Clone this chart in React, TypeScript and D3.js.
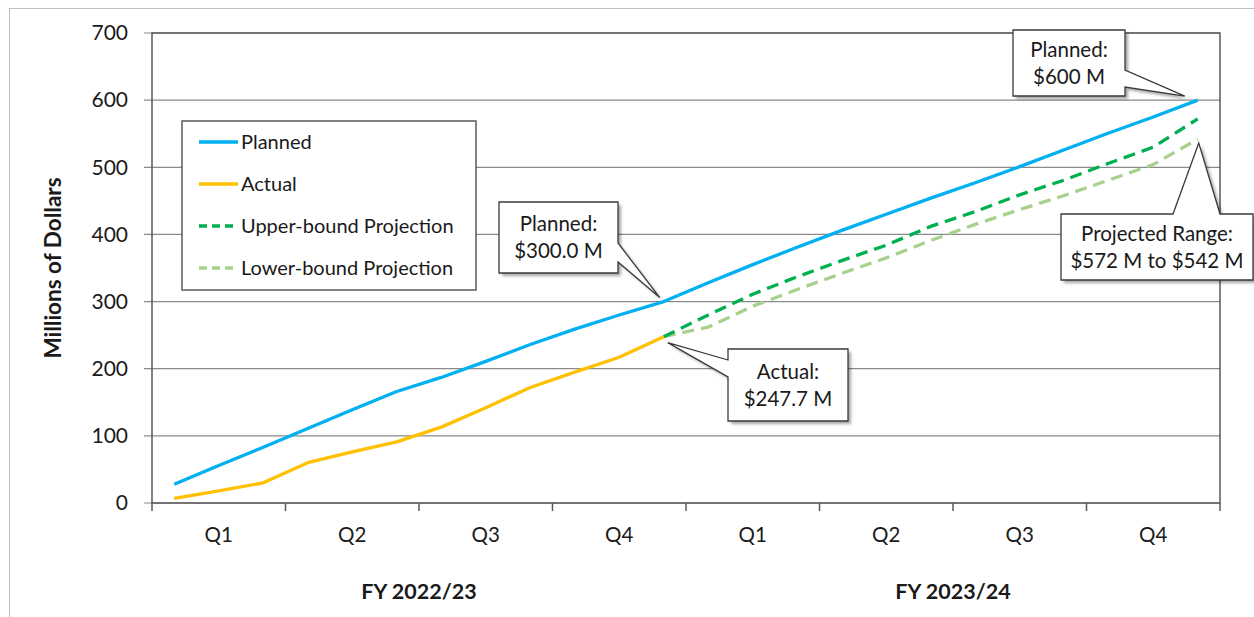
import * as d3 from 'd3';

// monthly cumulative values, millions of dollars (FY 2022/23 months 1-12, FY 2023/24 months 13-24)
const planned = [28, 56, 83, 111, 139, 166, 187, 211, 236, 259, 280, 300, 328, 355, 381, 406, 430, 454, 477, 501, 526, 551, 575, 600];
const actual = [7, 18, 30, 60, 76, 91, 113, 142, 172, 195, 217, 247.7];
// projections start at the last actual month (month 12)
const upperBound = [247.7, 280, 311, 337, 361, 384, 412, 434, 459, 481, 506, 530, 572];
const lowerBound = [247.7, 262, 293, 318, 342, 365, 391, 415, 437, 458, 481, 504, 542];
const quarterLabels = ['Q1', 'Q2', 'Q3', 'Q4', 'Q1', 'Q2', 'Q3', 'Q4'];
const fiscalYears = ['FY 2022/23', 'FY 2023/24'];
const yTicks = [0, 100, 200, 300, 400, 500, 600, 700];

const FONT = 'Lato, "Open Sans", sans-serif';
const colors = { planned: '#00B0F0', actual: '#FFC000', upper: '#00B050', lower: '#A9D18E' };

const margin = { left: 152, top: 33, right: 1220, bottom: 503 };

const x = d3.scaleLinear().domain([0, 24]).range([margin.left, margin.right]);
const y = d3.scaleLinear().domain([0, 700]).range([margin.bottom, margin.top]);
const mx = (m: number) => x(m - 0.5); // month m (1-based) at the centre of its slot

const line = d3.line<[number, number]>().x(d => mx(d[0])).y(d => y(d[1]));
const toPts = (vals: number[], start: number) => vals.map((v, i) => [start + i, v] as [number, number]);

type Callout = {
    lines: string[];
    month: number;
    value: number;
    box: [number, number, number, number];
    edge: 'left' | 'right' | 'top';
    base: [number, number];
    tipOffset: [number, number];
};

const callouts: Callout[] = [
    { lines: ['Planned:', '$300.0 M'], month: 12, value: 300, box: [499, 202, 119, 71], edge: 'right', base: [243, 262], tipOffset: [-4, -4] },
    { lines: ['Actual:', '$247.7 M'], month: 12, value: 247.7, box: [728, 349, 120, 72], edge: 'left', base: [360, 377], tipOffset: [4, 6] },
    { lines: ['Planned:', '$600 M'], month: 24, value: 600, box: [1013, 30, 112, 66], edge: 'right', base: [70, 87], tipOffset: [-13, -4] },
    { lines: ['Projected Range:', '$572 M to $542 M'], month: 24, value: 542, box: [1061, 214, 192, 66], edge: 'top', base: [1173, 1220], tipOffset: [1, 4] },
];

function calloutPath(c: Callout) {
    const [bx, by, bw, bh] = c.box;
    const tx = mx(c.month) + c.tipOffset[0];
    const ty = y(c.value) + c.tipOffset[1];
    const [b1, b2] = c.base;
    if (c.edge === 'right') {
        return `M${bx},${by}L${bx + bw},${by}L${bx + bw},${b1}L${tx},${ty}L${bx + bw},${b2}L${bx + bw},${by + bh}L${bx},${by + bh}Z`;
    }
    if (c.edge === 'left') {
        return `M${bx},${by}L${bx + bw},${by}L${bx + bw},${by + bh}L${bx},${by + bh}L${bx},${b2}L${tx},${ty}L${bx},${b1}Z`;
    }
    return `M${bx},${by}L${b1},${by}L${tx},${ty}L${b2},${by}L${bx + bw},${by}L${bx + bw},${by + bh}L${bx},${by + bh}Z`;
}

const legendItems = [
    { label: 'Planned', color: colors.planned, dash: null },
    { label: 'Actual', color: colors.actual, dash: null },
    { label: 'Upper-bound Projection', color: colors.upper, dash: '8,5' },
    { label: 'Lower-bound Projection', color: colors.lower, dash: '8,5' },
];

export default function App() {
    const quarterTicks = d3.range(0, 25, 3);
    return (
        <svg width={1254} height={617} style={{ position: 'absolute', left: 0, top: 0, background: '#fff' }} fontFamily={FONT}>
            <defs>
                <filter id="shadow" x="-20%" y="-20%" width="140%" height="140%">
                    <feGaussianBlur stdDeviation="1.5" />
                </filter>
            </defs>
            {/* outer frame */}
            <rect x={9.5} y={8.5} width={1300} height={700} fill="none" stroke="#bfbfbf" strokeWidth={1} />

            {/* gridlines */}
            {yTicks.map(t => (
                <g key={t}>
                    <line x1={margin.left - 8} x2={margin.right} y1={y(t)} y2={y(t)} stroke="#8a8a8a" strokeWidth={1.2} />
                    <text x={128} y={y(t)} dy="0.35em" textAnchor="end" fontSize={21} fill="#1a1a1a">{t}</text>
                </g>
            ))}
            {/* plot border */}
            <rect x={margin.left} y={margin.top} width={margin.right - margin.left} height={margin.bottom - margin.top} fill="none" stroke="#5a5a5a" strokeWidth={1.5} />

            {/* x ticks and labels */}
            {quarterTicks.map(m => (
                <line key={m} x1={x(m)} x2={x(m)} y1={margin.bottom} y2={margin.bottom + 8} stroke="#5a5a5a" strokeWidth={1.5} />
            ))}
            {quarterLabels.map((q, i) => (
                <text key={i} x={x(i * 3 + 1.5)} y={535} dy="0.35em" textAnchor="middle" fontSize={20.5} fill="#1a1a1a">{q}</text>
            ))}
            {fiscalYears.map((fy, i) => (
                <text key={fy} x={x(i * 12 + 6)} y={591} dy="0.35em" textAnchor="middle" fontSize={21.5} fontWeight="bold" fill="#1a1a1a">{fy}</text>
            ))}
            <text transform={`translate(53,${(margin.top + margin.bottom) / 2}) rotate(-90)`} dy="0.35em" textAnchor="middle" fontSize={22.5} fontWeight="bold" fill="#1a1a1a">Millions of Dollars</text>

            {/* series */}
            <path d={line(toPts(planned, 1)) ?? ''} fill="none" stroke={colors.planned} strokeWidth={3.3} strokeLinejoin="round" />
            <path d={line(toPts(lowerBound, 12)) ?? ''} fill="none" stroke={colors.lower} strokeWidth={3.3} strokeDasharray="12,7" />
            <path d={line(toPts(upperBound, 12)) ?? ''} fill="none" stroke={colors.upper} strokeWidth={3.3} strokeDasharray="12,7" />
            <path d={line(toPts(actual, 1)) ?? ''} fill="none" stroke={colors.actual} strokeWidth={3.3} strokeLinejoin="round" />

            {/* legend */}
            <rect x={182} y={121} width={294} height={169} fill="#fff" stroke="#5a5a5a" strokeWidth={1.5} />
            {legendItems.map((it, i) => {
                const ly = 142 + i * 42;
                return (
                    <g key={it.label}>
                        <line x1={199} x2={238} y1={ly} y2={ly} stroke={it.color} strokeWidth={3.5} strokeDasharray={it.dash ?? undefined} />
                        <text x={241} y={ly} dy="0.35em" fontSize={20} fill="#1a1a1a">{it.label}</text>
                    </g>
                );
            })}

            {/* callouts */}
            {callouts.map((c, i) => {
                const d = calloutPath(c);
                const [bx, by, bw, bh] = c.box;
                return (
                    <g key={i}>
                        <path d={d} transform="translate(3,3)" fill="rgba(0,0,0,0.35)" filter="url(#shadow)" />
                        <path d={d} fill="#fff" stroke="#3a3a3a" strokeWidth={1.3} strokeLinejoin="miter" />
                        {c.lines.map((t, j) => (
                            <text key={j} x={bx + bw / 2} y={by + bh / 2 + (j - 0.5) * 27} dy="0.35em" textAnchor="middle" fontSize={20.5} fill="#1a1a1a">{t}</text>
                        ))}
                    </g>
                );
            })}
        </svg>
    );
}
